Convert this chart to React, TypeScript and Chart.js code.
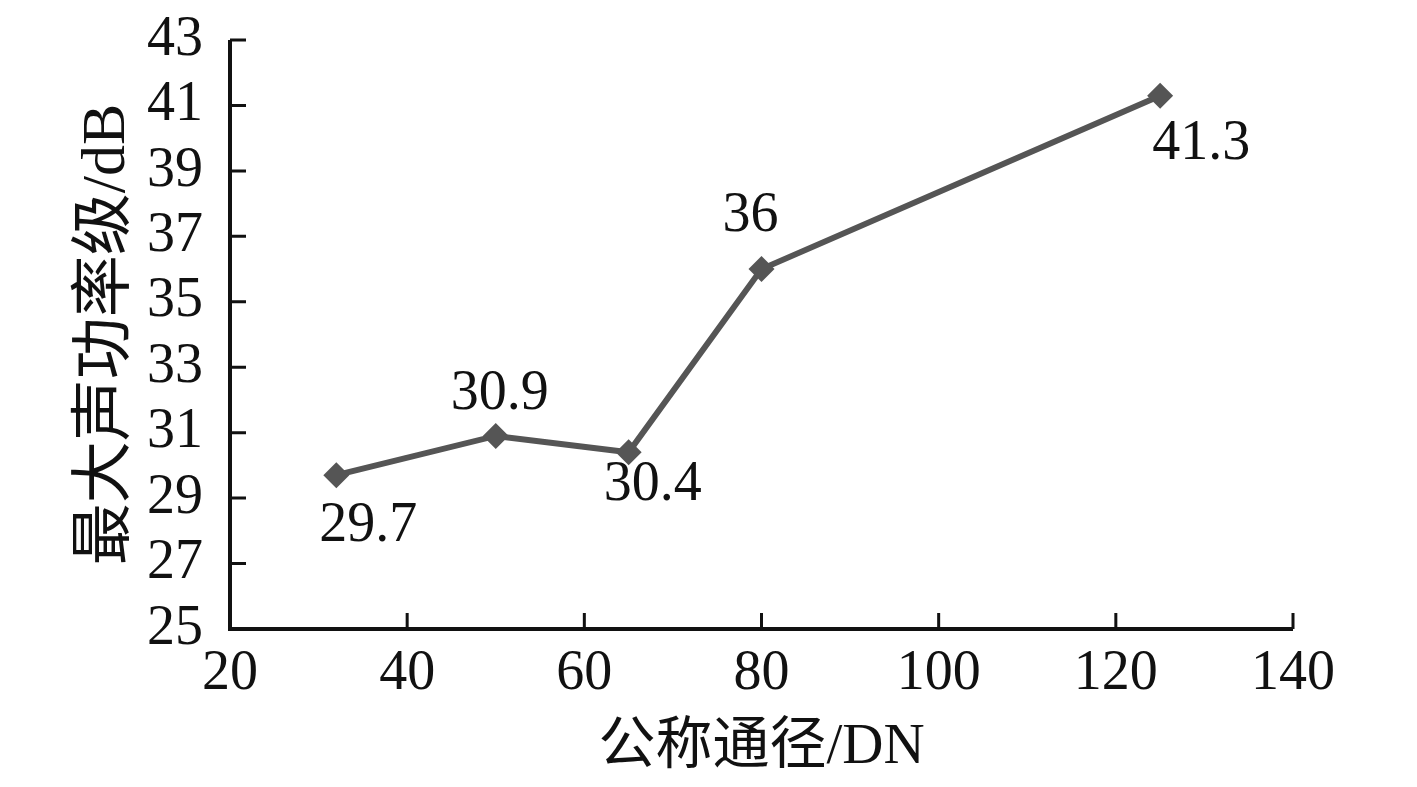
import React, { useEffect, useRef } from "react";
import { Chart, registerables } from "chart.js";

Chart.register(...registerables);

const diameters = [32, 50, 65, 80, 125];
const powerLevels = [29.7, 30.9, 30.4, 36, 41.3];
const valueLabels = ["29.7", "30.9", "30.4", "36", "41.3"];
const xTitle = "公称通径/DN";
const yTitle = "最大声功率级/dB";

// label offsets relative to each marker (style)
const labelOffsets = [
  [32, 51],
  [4, -42],
  [24, 33],
  [-11, -53],
  [41, 49],
];

const FONT = "'Liberation Serif', 'Times New Roman', 'Noto Sans CJK SC', serif";

const inwardTicks = {
  id: "inwardTicks",
  afterDraw(chart: any) {
    const { ctx, chartArea } = chart;
    const xs = chart.scales.x;
    const ys = chart.scales.y;
    const len = 16;
    ctx.save();
    ctx.strokeStyle = "#111";
    ctx.lineWidth = 3;
    ctx.lineCap = "butt";
    ctx.beginPath();
    xs.ticks.forEach((t: any) => {
      const px = xs.getPixelForValue(t.value);
      ctx.moveTo(px, chartArea.bottom);
      ctx.lineTo(px, chartArea.bottom - len);
    });
    ys.ticks.forEach((t: any) => {
      const py = ys.getPixelForValue(t.value);
      ctx.moveTo(chartArea.left, py);
      ctx.lineTo(chartArea.left + len, py);
    });
    ctx.stroke();
    ctx.lineWidth = 4;
    ctx.beginPath();
    ctx.moveTo(chartArea.left, ys.getPixelForValue(ys.max));
    ctx.lineTo(chartArea.left, chartArea.bottom);
    ctx.lineTo(xs.getPixelForValue(xs.max), chartArea.bottom);
    ctx.stroke();
    ctx.restore();
  },
};

const valueLabelPlugin = {
  id: "valueLabels",
  afterDatasetsDraw(chart: any) {
    const { ctx } = chart;
    const meta = chart.getDatasetMeta(0);
    ctx.save();
    ctx.fillStyle = "#111";
    ctx.font = `56px ${FONT}`;
    ctx.textAlign = "center";
    ctx.textBaseline = "middle";
    meta.data.forEach((pt: any, i: number) => {
      const [dx, dy] = labelOffsets[i];
      ctx.fillText(valueLabels[i], pt.x + dx, pt.y + dy);
    });
    ctx.restore();
  },
};

export default function App() {
  const ref = useRef<HTMLCanvasElement>(null);
  useEffect(() => {
    if (!ref.current) return;
    const chart = new Chart(ref.current, {
      type: "line",
      data: {
        datasets: [
          {
            data: diameters.map((d, i) => ({ x: d, y: powerLevels[i] })),
            borderColor: "#555555",
            backgroundColor: "#555555",
            borderWidth: 6,
            pointStyle: "rectRot",
            pointRadius: 13,
            pointBorderWidth: 0,
            pointBackgroundColor: "#555555",
            tension: 0,
            clip: false as any,
          },
        ],
      },
      options: {
        animation: false,
        responsive: false,
        layout: { padding: { top: 40, right: 124, left: 0, bottom: 0 } },
        plugins: {
          legend: { display: false },
          tooltip: { enabled: false },
        },
        scales: {
          x: {
            type: "linear",
            min: 20,
            max: 140,
            grid: { display: false, drawTicks: false },
            border: { display: false },
            ticks: {
              stepSize: 20,
              autoSkip: false,
              maxRotation: 0,
              padding: 12,
              color: "#111",
              font: { family: FONT, size: 56 },
            },
            title: {
              display: true,
              text: xTitle,
              color: "#111",
              font: { family: FONT, size: 57 },
              padding: { top: 0, bottom: 5 },
            },
            afterFit: (s: any) => {
              s.height = 158;
              s.paddingLeft = 0;
              s.paddingRight = 0;
            },
          },
          y: {
            type: "linear",
            min: 25,
            max: 43,
            grid: { display: false, drawTicks: false },
            border: { display: false },
            ticks: {
              stepSize: 2,
              autoSkip: false,
              padding: 27,
              color: "#111",
              font: { family: FONT, size: 56 },
            },
            title: {
              display: true,
              text: yTitle,
              color: "#111",
              font: { family: FONT, size: 62 },
              padding: { top: 71, bottom: 0 },
            },
            afterFit: (s: any) => {
              s.width = 230;
              s.paddingTop = 0;
              s.paddingBottom = 0;
            },
          },
        },
      },
      plugins: [inwardTicks, valueLabelPlugin],
    });
    return () => chart.destroy();
  }, []);
  return (
    <div style={{ position: "fixed", left: 0, top: 0, width: 1417, height: 787, background: "#fff" }}>
      <canvas ref={ref} width={1417} height={787} style={{ display: "block" }} />
    </div>
  );
}
